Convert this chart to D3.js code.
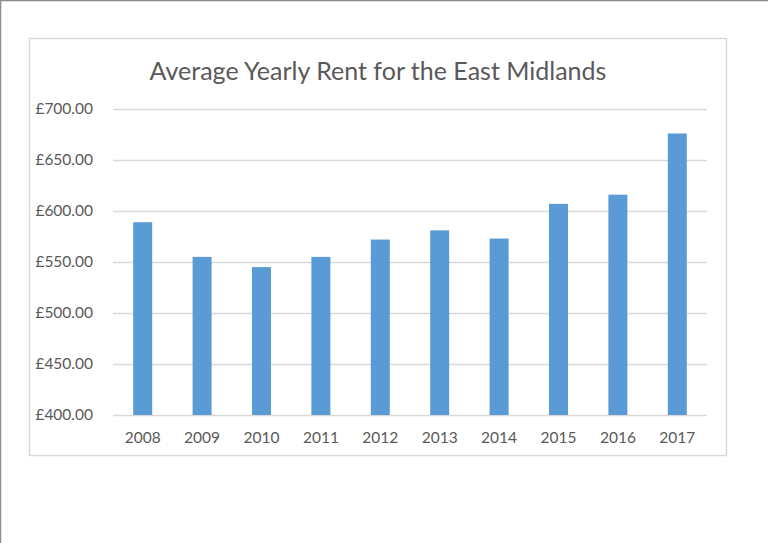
<!DOCTYPE html>
<html>
<head>
<meta charset="utf-8">
<script src="https://cdn.jsdelivr.net/npm/d3@7"></script>
<style>
  body { margin: 0; background: #fff; }
  svg { display: block; }
</style>
</head>
<body>
<div id="chart"></div>
<script>
// Chart data
const years = ["2008", "2009", "2010", "2011", "2012", "2013", "2014", "2015", "2016", "2017"];
const rents = [589, 555, 545, 555, 572, 581, 573, 607, 616, 676];
const yTicks = [400, 450, 500, 550, 600, 650, 700];
const title = "Average Yearly Rent for the East Midlands";

const width = 768, height = 543;
const frame = { x: 29.5, y: 38.5, w: 697, h: 417 };
const plot = { left: 113, right: 707, top: 109, bottom: 415 };
const font = "Lato, 'Open Sans', sans-serif";

const svg = d3.select("#chart").append("svg")
  .attr("width", width)
  .attr("height", height);

// Page border (top and left only)
svg.append("path")
  .attr("d", `M0.5,${height} V0.5 H${width}`)
  .attr("fill", "none")
  .attr("stroke", "#8c8c8c")
  .attr("stroke-width", 1.5);

// Chart area frame
svg.append("rect")
  .attr("x", frame.x)
  .attr("y", frame.y)
  .attr("width", frame.w)
  .attr("height", frame.h)
  .attr("fill", "#fff")
  .attr("stroke", "#d9d9d9")
  .attr("stroke-width", 1.5);

svg.append("text")
  .attr("x", 378)
  .attr("y", 80)
  .attr("text-anchor", "middle")
  .attr("font-family", font)
  .attr("font-size", 25)
  .attr("fill", "#595959")
  .text(title);

const x = d3.scaleBand()
  .domain(years)
  .range([plot.left, plot.right])
  .paddingInner(0.68)
  .paddingOuter(0.34);

const y = d3.scaleLinear()
  .domain([400, 700])
  .range([plot.bottom, plot.top]);

// Gridlines + y labels
const yAxis = svg.append("g")
  .attr("transform", `translate(${plot.left},0)`)
  .call(d3.axisLeft(y)
    .tickValues(yTicks)
    .tickSize(-(plot.right - plot.left))
    .tickPadding(20)
    .tickFormat(d => "£" + d3.format(".2f")(d)));
yAxis.select(".domain").remove();
yAxis.selectAll(".tick line")
  .attr("stroke", "#d9d9d9")
  .attr("stroke-width", 1.5);
yAxis.selectAll(".tick text")
  .attr("font-family", font)
  .attr("font-size", 15.5)
  .attr("fill", "#595959");

// Bars
svg.append("g")
  .selectAll("rect")
  .data(rents)
  .enter()
  .append("rect")
  .attr("x", (_, i) => x(years[i]))
  .attr("width", x.bandwidth())
  .attr("y", d => y(d))
  .attr("height", d => y(400) - y(d))
  .attr("fill", "#5b9bd5");

// X axis labels
const xAxis = svg.append("g")
  .attr("transform", `translate(0,${plot.bottom})`)
  .call(d3.axisBottom(x).tickSize(0).tickPadding(17));
xAxis.select(".domain").remove();
xAxis.selectAll(".tick text")
  .attr("font-family", font)
  .attr("font-size", 15.5)
  .attr("fill", "#595959");
</script>
</body>
</html>
